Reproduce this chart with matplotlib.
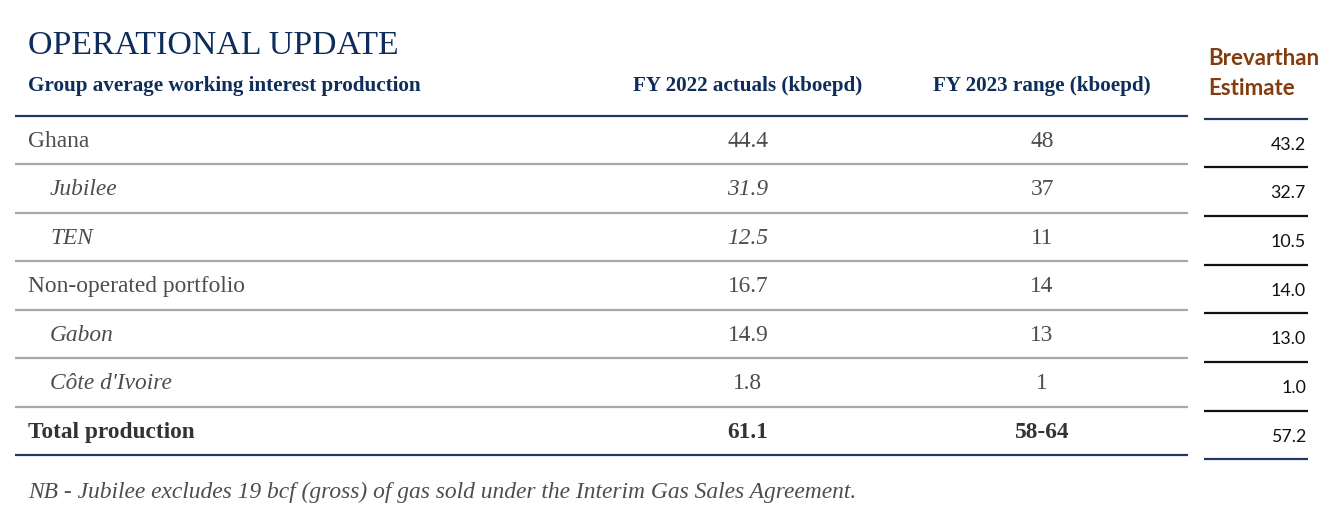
import matplotlib
matplotlib.use('Agg')
from matplotlib import pyplot as plt

# table content
title = 'OPERATIONAL UPDATE'
header_label = 'Group average working interest production'
col_headers = ['FY 2022 actuals (kboepd)', 'FY 2023 range (kboepd)']
est_header = ['Brevarthan', 'Estimate']
row_labels = ['Ghana', 'Jubilee', 'TEN', 'Non-operated portfolio', 'Gabon', "Côte d'Ivoire", 'Total production']
row_level = ['group', 'sub', 'sub', 'group', 'sub', 'sub', 'total']
fy2022 = ['44.4', '31.9', '12.5', '16.7', '14.9', '1.8', '61.1']
fy2022_italic = [False, True, True, False, False, False, False]
fy2023 = ['48', '37', '11', '14', '13', '1', '58-64']
estimate = [43.2, 32.7, 10.5, 14.0, 13.0, 1.0, 57.2]
footnote = 'NB - Jubilee excludes 19 bcf (gross) of gas sold under the Interim Gas Sales Agreement.'

NAVY = '#0f2d5a'
LINE_NAVY = '#1f3864'
GREY_TXT = '#4d4d4d'
GREY_LINE = '#a8a8a8'
BROWN = '#843c0c'
SERIF = 'Liberation Serif'
SANS = 'Lato'

W, H = 1344, 514
fig = plt.figure(figsize=(W / 100, H / 100), dpi=100)
ax = fig.add_axes([0, 0, 1, 1])
ax.set_xlim(0, W)
ax.set_ylim(H, 0)
ax.axis('off')

x_left, x_right = 15, 1188
x_lab, x_sub = 28, 50
x_c1, x_c2 = 748, 1042
top, row_h = 116, 48.43
est_l, est_r, est_top, est_h = 1204, 1308, 118.5, 48.7

# headings
ax.text(x_lab, 54, title, family=SERIF, fontsize=24.4, color=NAVY, va='baseline')
ax.text(x_lab, 91, header_label, family=SERIF, fontsize=15.2, weight='bold', color=NAVY, va='baseline')
for xc, lab in zip([x_c1, x_c2], col_headers):
    ax.text(xc, 91, lab, family=SERIF, fontsize=15.2, weight='bold', color=NAVY, va='baseline', ha='center')
for k, lab in enumerate(est_header):
    ax.text(1208, 65 + k * 30, lab, family=SANS, fontsize=16, weight='bold', color=BROWN, va='baseline')

# main table
n = len(row_labels)
ax.hlines(top, x_left, x_right, color=LINE_NAVY, lw=1.6)
ax.hlines([top + row_h * (i + 1) for i in range(n - 1)], x_left, x_right, color=GREY_LINE, lw=1.6)
ax.hlines(top + row_h * n, x_left, x_right, color=LINE_NAVY, lw=1.6)

for i, (lab, lvl) in enumerate(zip(row_labels, row_level)):
    yb = top + row_h * i + 31
    style = 'italic' if lvl == 'sub' else 'normal'
    weight = 'bold' if lvl == 'total' else 'normal'
    color = '#333333' if lvl == 'total' else GREY_TXT
    ax.text(x_sub if lvl == 'sub' else x_lab, yb, lab, family=SERIF, fontsize=16.8,
            style=style, weight=weight, color=color, va='baseline')
    ax.text(x_c1, yb, fy2022[i], family=SERIF, fontsize=16.8, ha='center', va='baseline',
            style='italic' if fy2022_italic[i] else 'normal', weight=weight, color=color)
    ax.text(x_c2, yb, fy2023[i], family=SERIF, fontsize=16.8, ha='center', va='baseline',
            weight=weight, color=color)

# estimate column
ax.hlines(est_top, est_l, est_r, color=LINE_NAVY, lw=1.6)
ax.hlines([est_top + est_h * (i + 1) for i in range(n - 1)], est_l, est_r, color='#111111', lw=1.6)
ax.hlines(est_top + est_h * n, est_l, est_r, color=LINE_NAVY, lw=1.6)
for i, v in enumerate(estimate):
    ax.text(1306, est_top + est_h * i + 31, f'{v:.1f}', family=SANS, fontsize=12.8,
            ha='right', va='baseline', color='#111111')

ax.text(x_lab, 498, footnote, family=SERIF, fontsize=16.9, style='italic', color=GREY_TXT, va='baseline')

fig.savefig('out.png', dpi=100, facecolor='white')
